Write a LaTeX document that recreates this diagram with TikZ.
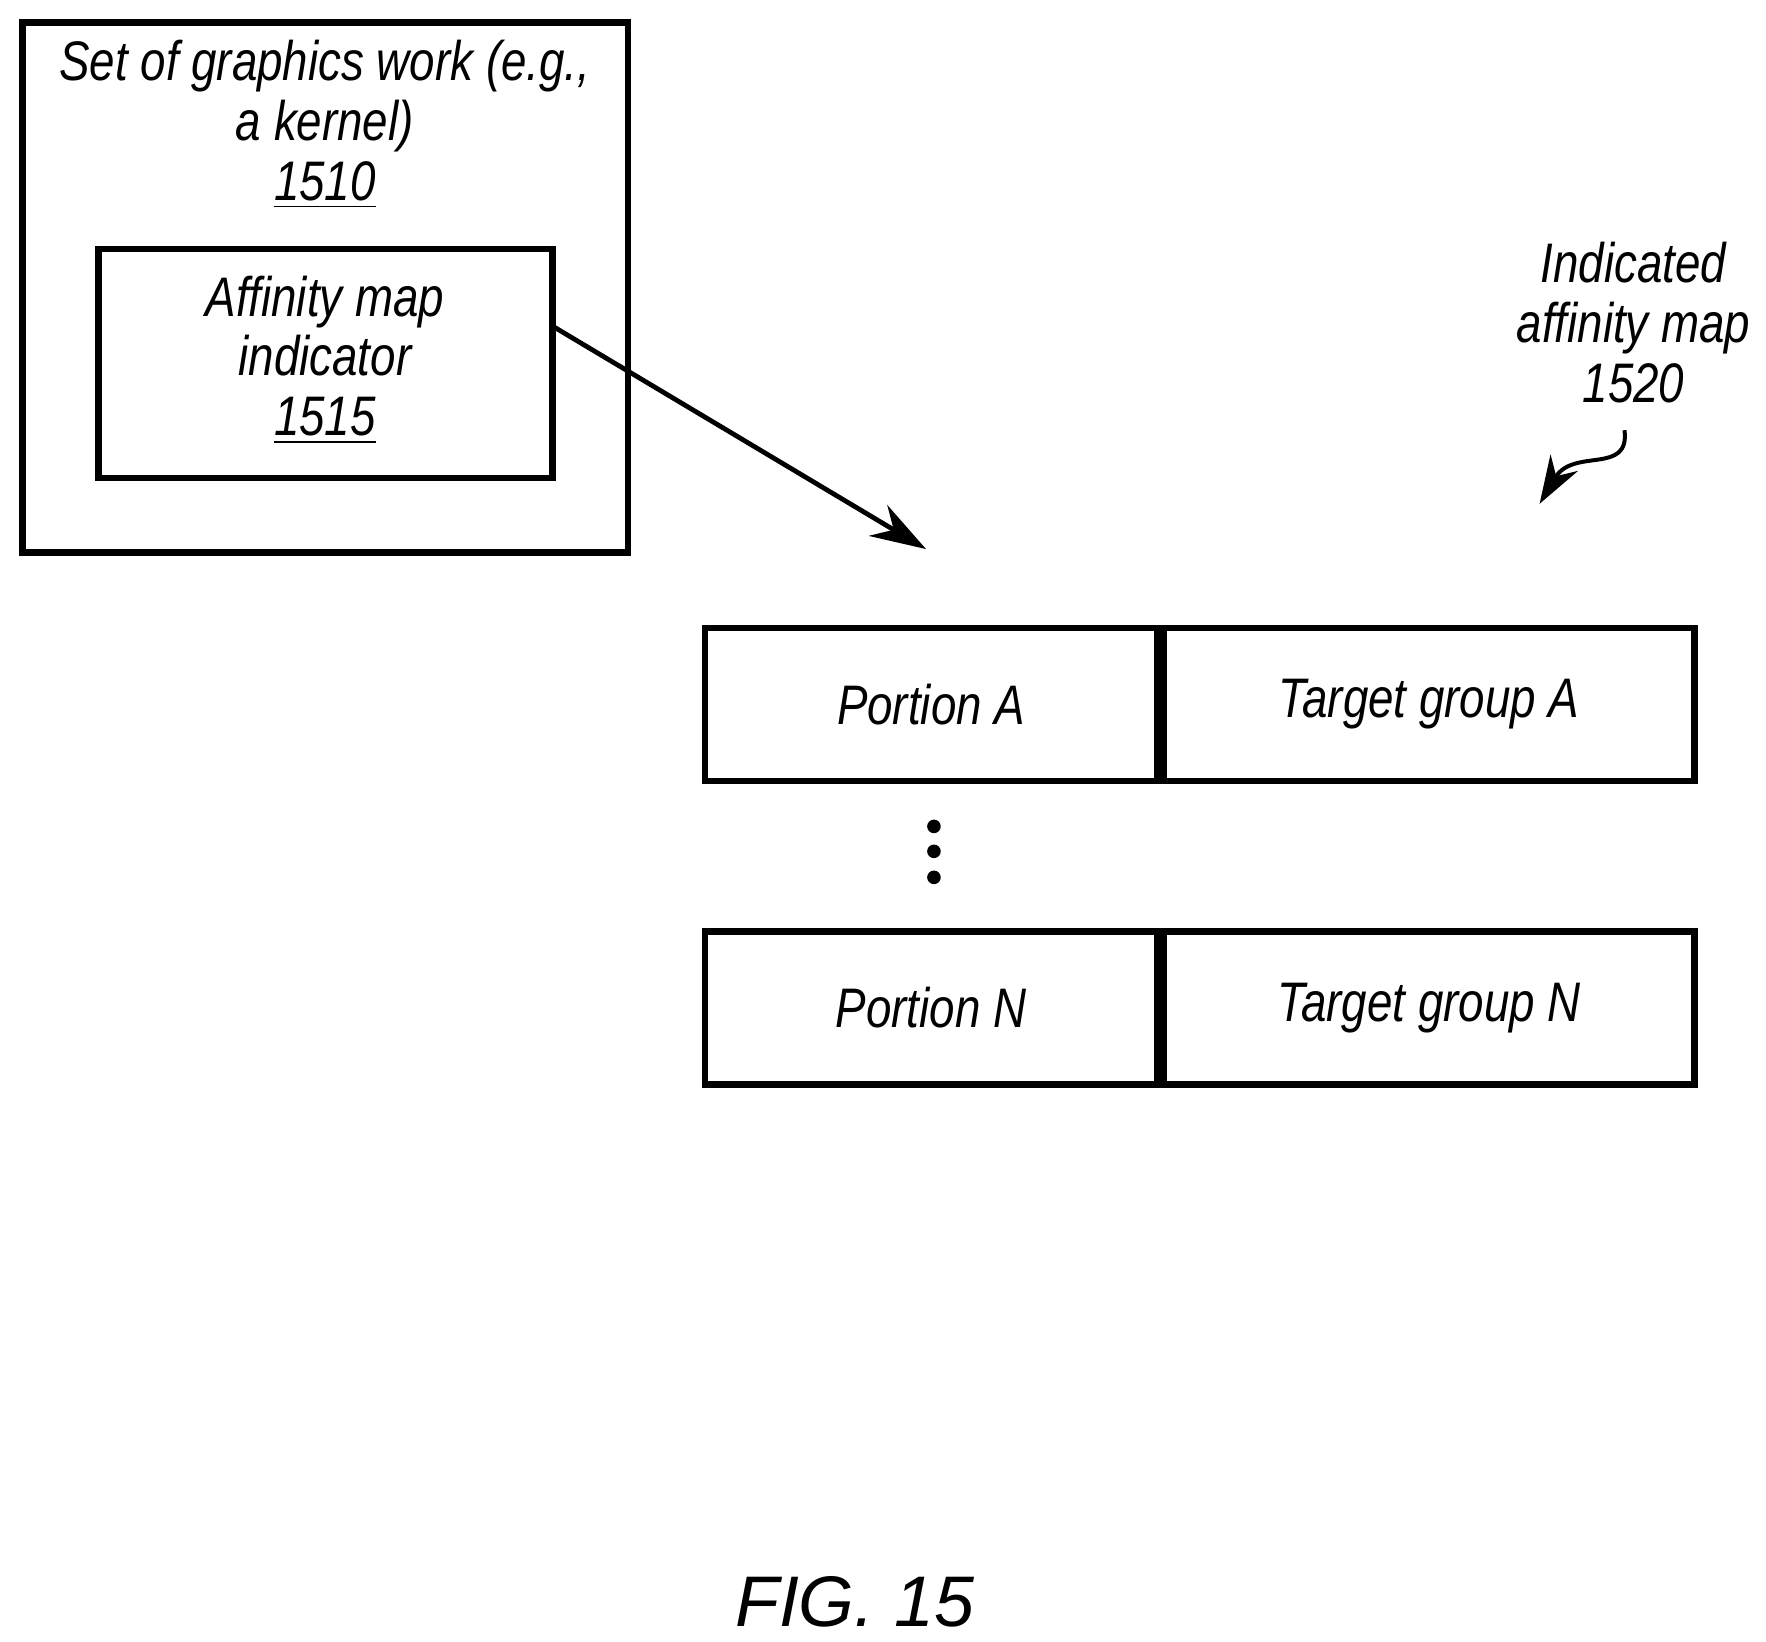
\documentclass[tikz,border=0pt]{standalone}
\usepackage{fontspec}
\setmainfont{Liberation Sans}
\newfontfamily\narrowit[FakeStretch=0.82,Scale=1]{Liberation Sans}
\usetikzlibrary{positioning,arrows.meta,decorations.pathmorphing}
\tikzset{
  blk/.style={draw,line width=1.6pt},
  lbl/.style={align=center,font=\narrowit\itshape\fontsize{14}{15}\selectfont},
  cell/.style={blk,minimum width=3.99cm,minimum height=1.35cm,inner sep=0pt,lbl},
}
\begin{document}
\begin{tikzpicture}[x=0.01cm,y=-0.01cm]
  \useasboundingbox (0,0) rectangle (1560,1450);
  % set of graphics work
  \draw[blk] (20,20) rectangle (555,488);
  \node[lbl] (work) at (287,110) {Set of graphics work (e.g.,\\a kernel)\\\underline{1510}};
  \draw[blk] (87,220) rectangle (488,422);
  \coordinate (indR) at (488,288);
  \node[lbl] (ind) at (287,318) {Affinity map\\indicator\\\underline{1515}};
  % affinity map table
  \node[cell,anchor=north west] (pa) at (620,552) {Portion A};
  \node[cell,minimum width=4.69cm,right=0pt of pa] (ta) {Target group A};
  \node[cell,anchor=north west] (pn) at (620,820) {Portion N};
  \node[cell,minimum width=4.69cm,right=0pt of pn] (tn) {Target group N};
  \foreach \y in {730,752,775}
    \fill (825,\y) circle (6);
  \coordinate (mapT) at (818,485);
  \draw[line width=1.2pt,-{Stealth[length=14pt,width=9pt]}] (indR) -- (mapT);
  % label
  \node[lbl] (map) at (1443,285) {Indicated\\affinity map\\1520};
  \coordinate (sq) at (1360,445);
  \draw[line width=1pt,-{Stealth[length=12pt,width=8pt]}] (1435,380) .. controls (1440,420) and (1390,395) .. (sq);
  \node[font=\itshape\fontsize{18}{20}\selectfont] (fig) at (755,1415) {FIG. 15};
\end{tikzpicture}
\end{document}
